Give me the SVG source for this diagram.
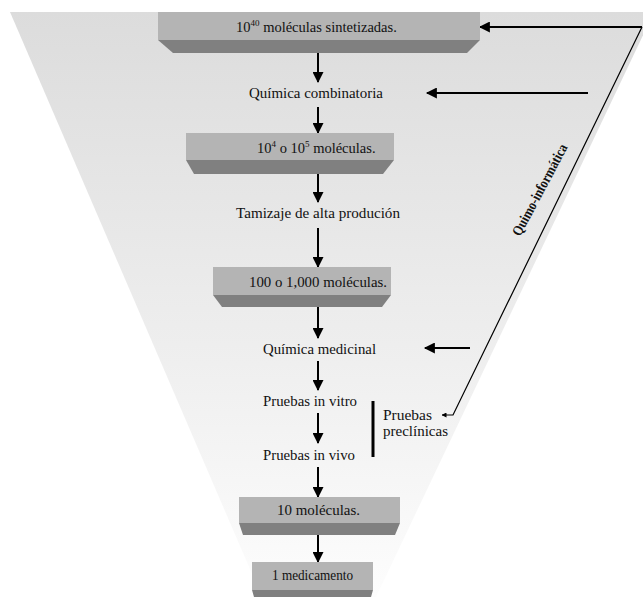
<svg xmlns="http://www.w3.org/2000/svg" width="643" height="597" viewBox="0 0 643 597">
<defs>
<linearGradient id="fg" x1="0" y1="0" x2="0" y2="1">
<stop offset="0" stop-color="#dcdcdc"/>
<stop offset="0.6" stop-color="#efefef"/>
<stop offset="1" stop-color="#fdfdfd"/>
</linearGradient>
<marker id="ah" viewBox="0 0 10 10" refX="9" refY="5" markerWidth="5" markerHeight="5" orient="auto" markerUnits="userSpaceOnUse">
<path d="M0,0 L10,5 L0,10 Z" fill="#000"/>
</marker>
<marker id="ah2" viewBox="0 0 10 10" refX="9" refY="5" markerWidth="12" markerHeight="11" orient="auto" markerUnits="userSpaceOnUse">
<path d="M0,0 L10,5 L0,10 Z" fill="#000"/>
</marker>
</defs>
<style>
text{font-family:"Liberation Serif","Times New Roman",serif;font-size:14.5px;fill:#111;}
.face{fill:#b4b4b4;}
.bev{fill:#808080;}
.v{stroke:#000;stroke-width:2;fill:none;}
.h{stroke:#000;stroke-width:2;fill:none;}
</style>
<polygon points="10,12 654,12 376,597 262,597" fill="url(#fg)"/>

<g id="connectors">
<line class="v" x1="318" y1="53" x2="318" y2="82" marker-end="url(#ah2)"/>
<line class="v" x1="318" y1="107" x2="318" y2="133" marker-end="url(#ah2)"/>
<line class="v" x1="318" y1="174" x2="318" y2="202" marker-end="url(#ah2)"/>
<line class="v" x1="318" y1="228" x2="318" y2="267" marker-end="url(#ah2)"/>
<line class="v" x1="318" y1="307" x2="318" y2="338" marker-end="url(#ah2)"/>
<line class="v" x1="318" y1="361" x2="318" y2="390" marker-end="url(#ah2)"/>
<line class="v" x1="318" y1="413" x2="318" y2="443" marker-end="url(#ah2)"/>
<line class="v" x1="318" y1="467" x2="318" y2="497" marker-end="url(#ah2)"/>
<line class="v" x1="318" y1="535" x2="318" y2="562" marker-end="url(#ah2)"/>
<line class="h" x1="642" y1="27" x2="480" y2="27" marker-end="url(#ah2)"/>
<line class="h" x1="588" y1="93" x2="427" y2="93" marker-end="url(#ah2)"/>
<line class="h" x1="470" y1="348" x2="425" y2="348" marker-end="url(#ah2)"/>
<polyline points="642,27 453,415 442,415" fill="none" stroke="#000" stroke-width="1.2" marker-end="url(#ah)"/>
<line x1="373" y1="401" x2="373" y2="457" stroke="#000" stroke-width="3"/>
</g>

<g id="box1">
<rect class="face" x="158" y="12" width="322" height="28"/>
<polygon class="bev" points="158,40 480,40 467,53 173,53"/>
<text x="236" y="32">10<tspan font-size="9" dy="-6">40</tspan><tspan dy="6"> moléculas sintetizadas.</tspan></text>
</g>
<g id="quimica-combinatoria">
<text x="249" y="98" textLength="134" lengthAdjust="spacingAndGlyphs">Química combinatoria</text>
</g>
<g id="box2">
<rect class="face" x="186" y="133" width="208" height="27"/>
<polygon class="bev" points="186,160 394,160 383,174 194,174"/>
<text x="257" y="153">10<tspan font-size="9" dy="-6">4</tspan><tspan dy="6"> o 10</tspan><tspan font-size="9" dy="-6">5</tspan><tspan dy="6">  moléculas.</tspan></text>
</g>
<g id="tamizaje">
<text x="236" y="218" textLength="164" lengthAdjust="spacingAndGlyphs">Tamizaje de alta produción</text>
</g>
<g id="box3">
<rect class="face" x="213" y="267" width="178" height="28"/>
<polygon class="bev" points="213,295 391,295 382,307 222,307"/>
<text x="249" y="287" textLength="138" lengthAdjust="spacingAndGlyphs">100 o 1,000 moléculas.</text>
</g>
<g id="quimica-medicinal">
<text x="263" y="354" textLength="113" lengthAdjust="spacingAndGlyphs">Química medicinal</text>
</g>
<g id="in-vitro">
<text x="263" y="406" textLength="94" lengthAdjust="spacingAndGlyphs">Pruebas in vitro</text>
</g>
<g id="in-vivo">
<text x="263" y="460" textLength="92" lengthAdjust="spacingAndGlyphs">Pruebas in vivo</text>
</g>
<g id="preclinicas">
<text x="383" y="420" textLength="49" lengthAdjust="spacingAndGlyphs">Pruebas</text>
<text x="383" y="436" textLength="65" lengthAdjust="spacingAndGlyphs">preclínicas</text>
</g>
<g id="box4">
<rect class="face" x="239" y="497" width="161" height="26"/>
<polygon class="bev" points="239,523 400,523 395,535 243,535"/>
<text x="277" y="515" textLength="83" lengthAdjust="spacingAndGlyphs">10 moléculas.</text>
</g>
<g id="box5">
<rect class="face" x="252" y="562" width="121" height="28"/>
<polygon class="bev" points="252,590 373,590 371,597 254,597"/>
<text x="272" y="580" textLength="81" lengthAdjust="spacingAndGlyphs">1 medicamento</text>
</g>
<g id="quimo-informatica">
<text x="544" y="192" text-anchor="middle" font-weight="bold" font-size="12" transform="rotate(-62 544 192)" textLength="102" lengthAdjust="spacingAndGlyphs">Quimo-informática</text>
</g>
</svg>
